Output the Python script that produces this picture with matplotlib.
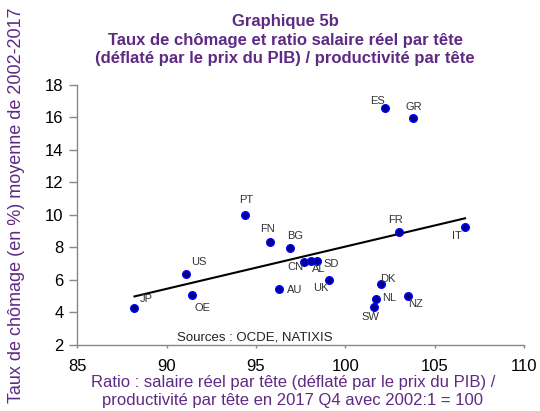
# Graphique 5b - chomage vs ratio salaire reel / productivite
import numpy as np
import matplotlib
matplotlib.use('Agg')
import matplotlib.pyplot as plt

plt.rcParams['font.family'] = ['Liberation Sans', 'DejaVu Sans']

PURPLE = '#5e2a84'

# Data
COUNTRIES = ['ES', 'GR', 'PT', 'FN', 'BG', 'US', 'OE', 'JP', 'CN', 'AL',
             'SD', 'AU', 'UK', 'FR', 'IT', 'DK', 'NL', 'SW', 'NZ']
RATIO = [102.2, 103.8, 94.4, 95.8, 96.9, 91.1, 91.4, 88.2, 97.7, 98.1,
         98.4, 96.3, 99.1, 103.0, 106.7, 102.0, 101.7, 101.6, 103.5]
CHOMAGE = [16.55, 15.95, 10.0, 8.3, 7.96, 6.37, 5.08, 4.27, 7.1, 7.16,
           7.16, 5.43, 5.98, 8.94, 9.24, 5.76, 4.84, 4.29, 5.02]

X_TICKS = [85, 90, 95, 100, 105, 110]
Y_TICKS = [2, 4, 6, 8, 10, 12, 14, 16, 18]

# label offsets in pixels (dx, dy), dy positive = up
LABEL_OFFSETS = {
    'ES': (-7, 7), 'GR': (1, 11), 'PT': (1, 15), 'FN': (-3, 13),
    'BG': (5, 12), 'US': (13, 12), 'OE': (11, -13), 'JP': (12, 9),
    'CN': (-9, -5), 'AL': (7, -8), 'SD': (14, -3), 'AU': (15, -1),
    'UK': (-8, -8), 'FR': (-3, 12), 'IT': (-8, -9), 'DK': (7, 5),
    'NL': (13, 1), 'SW': (-3, -10), 'NZ': (8, -8),
}

fig = plt.figure(figsize=(5.4, 4.11), dpi=100)
ax = fig.add_axes([77.3 / 540, 1 - 344.7 / 411, (524 - 77.3) / 540, (344.7 - 84.7) / 411])

ax.scatter(RATIO, CHOMAGE, s=30, color='#00008b', edgecolors='#0000ff',
           linewidths=1.0, zorder=3)

# linear trend
slope, intercept = np.polyfit(RATIO, CHOMAGE, 1)
xs = np.array([min(RATIO), max(RATIO)])
ax.plot(xs, slope * xs + intercept, color='black', lw=1.5, zorder=2)

for name, x, y in zip(COUNTRIES, RATIO, CHOMAGE):
    dx, dy = LABEL_OFFSETS[name]
    ax.annotate(name, (x, y), xytext=(dx * 0.72, dy * 0.72), textcoords='offset points',
                ha='center', va='center', fontsize=8, color='#333333', zorder=4)

ax.set_xlim(85, 110)
ax.set_ylim(2, 18)
ax.set_xticks(X_TICKS)
ax.set_yticks(Y_TICKS)
ax.tick_params(axis='y', direction='out', length=6, width=1, color='#888888',
               labelsize=12, pad=4)
ax.tick_params(axis='x', direction='out', length=2.5, width=1, color='#888888',
               labelsize=12, pad=8)
for side in ['top', 'right']:
    ax.spines[side].set_visible(False)
for side in ['left', 'bottom']:
    ax.spines[side].set_color('#888888')
    ax.spines[side].set_linewidth(1)

ax.text(0.223, 0.003, 'Sources : OCDE, NATIXIS', transform=ax.transAxes,
        fontsize=9.5, color='#222222', ha='left', va='bottom')

fig.text(285 / 540, 1 - 14 / 411,
         'Graphique 5b\nTaux de chômage et ratio salaire réel par tête\n'
         '(déflaté par le prix du PIB) / productivité par tête',
         ha='center', va='top', fontsize=12, fontweight='bold', color=PURPLE,
         linespacing=1.3)

fig.text(293 / 540, 1 - 375 / 411,
         'Ratio : salaire réel par tête (déflaté par le prix du PIB) /\n'
         'productivité par tête en 2017 Q4 avec 2002:1 = 100',
         ha='center', va='top', fontsize=12, color=PURPLE, linespacing=1.25)

fig.text(17 / 540, 0.5, 'Taux de chômage (en %) moyenne de 2002-2017',
         rotation=90, ha='center', va='center', fontsize=13, color=PURPLE)

fig.savefig('out.png', dpi=100)
